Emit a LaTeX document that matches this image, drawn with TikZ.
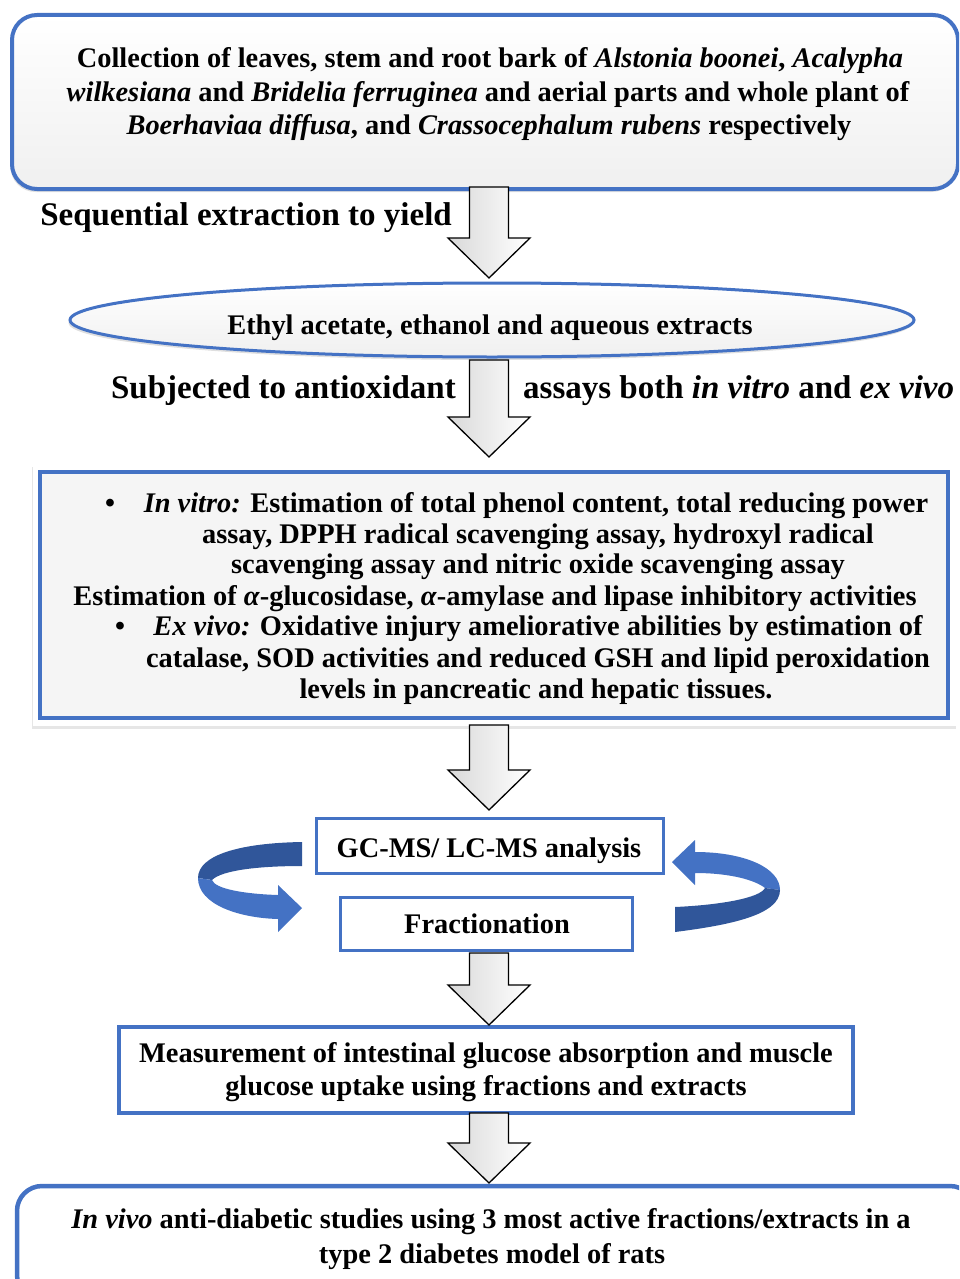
\documentclass[tikz,border=0pt]{standalone}
\usepackage{fontspec}
\setmainfont{Liberation Serif}
\usetikzlibrary{shapes.geometric,shadows,calc}
\definecolor{bblue}{HTML}{4472C4}
\definecolor{dblue}{HTML}{30569A}
\begin{document}
\begin{tikzpicture}[x=1pt,y=-1pt,
  font=\fontsize{28.4}{33}\selectfont\bfseries,
  txt/.style={inner sep=0pt, anchor=base},
  bigtxt/.style={inner sep=0pt, font=\fontsize{33}{38}\selectfont\bfseries},
  flowbox/.style={draw=bblue, fill=white, inner sep=0pt},
  softshadow/.style={drop shadow={shadow xshift=-1.5pt, shadow yshift=-3pt, opacity=0.25, fill=gray}},
  pics/barrow/.style={code={
    \path[draw=black, line width=1.3pt, line join=miter, left color=gray!30, right color=white]
      (-19.5,0) -- (19.5,0) -- (19.5,#1-40) -- (41,#1-40) -- (0,#1)
      -- (-41,#1-40) -- (-19.5,#1-40) -- cycle;
  }}]
\useasboundingbox (0,0) rectangle (959,1279);
\clip (0,0) rectangle (959,1279);

% ---------- box 1 ----------
\node[flowbox, line width=4pt, rounded corners=25pt, minimum width=946pt, minimum height=174pt,
      top color=white, bottom color=gray!12, softshadow] (b1) at (485,102) {};
\node[txt] (t1a) at (490,68) {Collection of leaves, stem and root bark of \textit{Alstonia boonei}, \textit{Acalypha}};
\node[txt] (t1b) at (488,102) {\textit{wilkesiana} and \textit{Bridelia ferruginea} and aerial parts and whole plant of};
\node[txt] (t1c) at (489,135) {\textit{Boerhaviaa diffusa}, and \textit{Crassocephalum rubens} respectively};

\node[bigtxt, anchor=base east] (l1) at (452,225) {Sequential extraction to yield};

% ---------- ellipse ----------
\node[ellipse, draw=bblue, line width=3pt, minimum width=844pt, minimum height=74pt,
      top color=white, bottom color=gray!12, softshadow] (b2) at (492,320) {};
\node[txt] (t2) at (490,334) {Ethyl acetate, ethanol and aqueous extracts};

\node[bigtxt, anchor=base east] (l2a) at (456,398) {Subjected to antioxidant};
\node[bigtxt, anchor=base west] (l2b) at (523,398) {assays both \textit{in vitro} and \textit{ex vivo}};

% ---------- box 3 ----------
\node[fill=white, minimum width=924pt, minimum height=262pt, inner sep=0pt,
      drop shadow={shadow xshift=-1pt, shadow yshift=-3pt, opacity=0.2, fill=gray}] (b3o) at (495,595) {};
\node[draw=bblue, line width=4pt, fill=gray!8, minimum width=908pt, minimum height=246pt, inner sep=0pt] (b3) at (494,595) {};
\node[txt] (bu1) at (110,512) {•};
\node[txt] (t3a) at (536,512) {\textit{In vitro:} Estimation of total phenol content, total reducing power};
\node[txt] (t3b) at (538,543) {assay, DPPH radical scavenging assay, hydroxyl radical};
\node[txt] (t3c) at (538,573) {scavenging assay and nitric oxide scavenging assay};
\node[txt] (t3d) at (495,605) {Estimation of \textit{α}-glucosidase, \textit{α}-amylase and lipase inhibitory activities};
\node[txt] (bu2) at (120,635) {•};
\node[txt] (t3e) at (538,635) {\textit{Ex vivo:} Oxidative injury ameliorative abilities by estimation of};
\node[txt] (t3f) at (538,667) {catalase, SOD activities and reduced GSH and lipid peroxidation};
\node[txt] (t3g) at (536,698) {levels in pancreatic and hepatic tissues.};

% ---------- GC-MS and fractionation ----------
\node[flowbox, line width=3pt, minimum width=347pt, minimum height=55pt] (gc) at (490,845.5) {};
\node[txt] (tgc) at (489,857) {GC-MS/ LC-MS analysis};
\node[flowbox, line width=3pt, minimum width=292pt, minimum height=53pt] (fr) at (486,923.5) {};
\node[txt] (tfr) at (487,933) {Fractionation};

% curved arrows
\fill[dblue] (302,842) .. controls (240,843) and (198,855) .. (198,878)
  -- (212,880) .. controls (222,870) and (260,866) .. (302,866) -- cycle;
\fill[bblue] (198,878) .. controls (198,905) and (240,918) .. (278,919)
  -- (278,932) -- (302,908) -- (278,885) -- (278,895)
  .. controls (245,894) and (215,889) .. (212,880) -- cycle;
\fill[bblue] (672,862) -- (695,840) -- (695,852) .. controls (745,852) and (780,868) .. (780,890)
  -- (765,888) .. controls (755,880) and (730,873) .. (695,873) -- (695,885) -- cycle;
\fill[dblue] (780,890) .. controls (780,915) and (730,925) .. (675,932)
  -- (675,907) .. controls (720,905) and (760,898) .. (765,888) -- cycle;

% ---------- measurement ----------
\node[flowbox, line width=3.5pt, minimum width=734pt, minimum height=86pt] (ms) at (486,1070) {};
\node[txt] (tms1) at (486,1062) {Measurement of intestinal glucose absorption and muscle};
\node[txt] (tms2) at (486,1095) {glucose uptake using fractions and extracts};

% ---------- bottom ----------
\node[flowbox, line width=4.5pt, rounded corners=25pt, minimum width=958pt, minimum height=114pt] (b5) at (496,1243) {};
\node[txt] (tb1) at (491,1228) {\textit{In vivo} anti-diabetic studies using 3 most active fractions/extracts in a};
\node[txt] (tb2) at (492,1263) {type 2 diabetes model of rats};

% ---------- block arrows ----------
\pic (a1) at (489,187) {barrow=91};
\pic (a2) at (489,360) {barrow=97};
\pic (a3) at (489,725) {barrow=85};
\pic (a4) at (489,953) {barrow=72};
\pic (a5) at (489,1113) {barrow=70};
\end{tikzpicture}
\end{document}
